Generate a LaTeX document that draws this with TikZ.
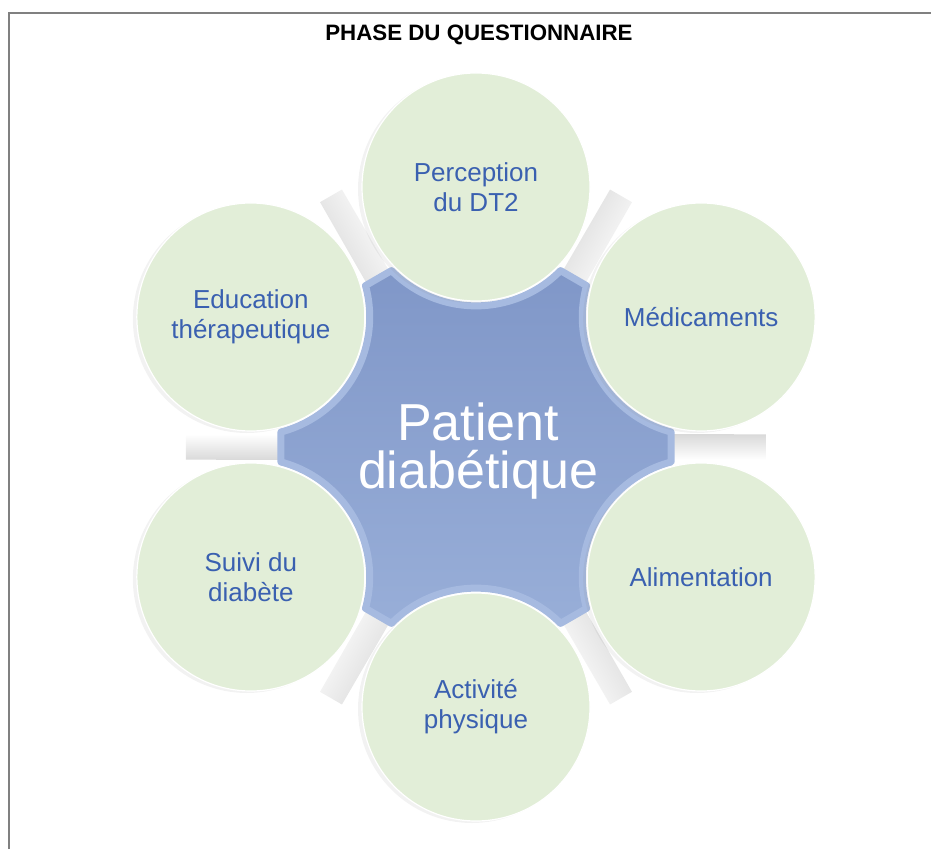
\documentclass[tikz,border=0pt]{standalone}
\usepackage{fontspec}
\setmainfont{Liberation Sans}
\usetikzlibrary{shadows}

\definecolor{bubblefill}{RGB}{226,238,216}
\definecolor{bubbletext}{RGB}{58,96,176}
\definecolor{hubtop}{RGB}{128,151,200}
\definecolor{hubbottom}{RGB}{152,174,216}
\definecolor{hubrim}{RGB}{166,186,224}
\definecolor{framegray}{RGB}{128,128,128}

\begin{document}
\begin{tikzpicture}[x=1pt,y=1pt]
\tikzstyle{every node}+=[inner sep=0pt]
\tikzstyle{bubble}=[circle, fill=bubblefill, draw=white, line width=1.2pt, minimum size=228pt,
  text=bubbletext, align=center, font=\fontsize{26}{30}\selectfont,
  drop shadow={shadow xshift=-4pt, shadow yshift=-2pt, opacity=0.1}]
\tikzstyle{spoke}=[left color=gray!30, right color=white]
\useasboundingbox (-476,-402) rectangle (455,447);
\draw [framegray, line width=2pt] (-467,-402) -- (-467,434) -- (455,434);
\node [font=\bfseries\fontsize{22.3}{26}\selectfont] (title) at (3,412) {PHASE DU QUESTIONNAIRE};
% gaps between the bubbles
\shade [spoke, shading angle=0] (-3.9:190.4) -- (3.9:190.4) -- (2.5:290.3) -- (-2.5:290.3) -- cycle;
\shade [spoke, shading angle=60] (56.1:190.4) -- (63.9:190.4) -- (62.5:290.3) -- (57.5:290.3) -- cycle;
\shade [spoke, shading angle=120] (116.1:190.4) -- (123.9:190.4) -- (122.5:290.3) -- (117.5:290.3) -- cycle;
\shade [spoke, shading angle=180] (176.1:190.4) -- (183.9:190.4) -- (182.5:290.3) -- (177.5:290.3) -- cycle;
\shade [spoke, shading angle=240] (236.1:190.4) -- (243.9:190.4) -- (242.5:290.3) -- (237.5:290.3) -- cycle;
\shade [spoke, shading angle=300] (296.1:190.4) -- (303.9:190.4) -- (302.5:290.3) -- (297.5:290.3) -- cycle;
% central star
\draw [top color=hubtop, bottom color=hubbottom, draw=hubrim, line width=7pt, line join=round]
  (-4.4:195.6) -- (4.4:195.6) arc[start angle=255.3, end angle=164.7, radius=118.9]
  -- (64.4:195.6) arc[start angle=315.3, end angle=224.7, radius=118.9]
  -- (124.4:195.6) arc[start angle=375.3, end angle=284.7, radius=118.9]
  -- (184.4:195.6) arc[start angle=435.3, end angle=344.7, radius=118.9]
  -- (244.4:195.6) arc[start angle=495.3, end angle=404.7, radius=118.9]
  -- (304.4:195.6) arc[start angle=555.3, end angle=464.7, radius=118.9] -- cycle;
\node [bubble] (perception) at (90:260) {Perception\\du DT2};
\node [bubble] (medicaments) at (30:260) {Médicaments};
\node [bubble] (alimentation) at (-30:260) {Alimentation};
\node [bubble] (activite) at (-90:260) {Activité\\physique};
\node [bubble] (suivi) at (-150:260) {Suivi du\\diabète};
\node [bubble] (education) at (150:260) {Education\\thérapeutique};
\node [align=center, font=\fontsize{52}{48}\selectfont, text=white] (hub) at (2,-4) {Patient\\diabétique};
\end{tikzpicture}
\end{document}
